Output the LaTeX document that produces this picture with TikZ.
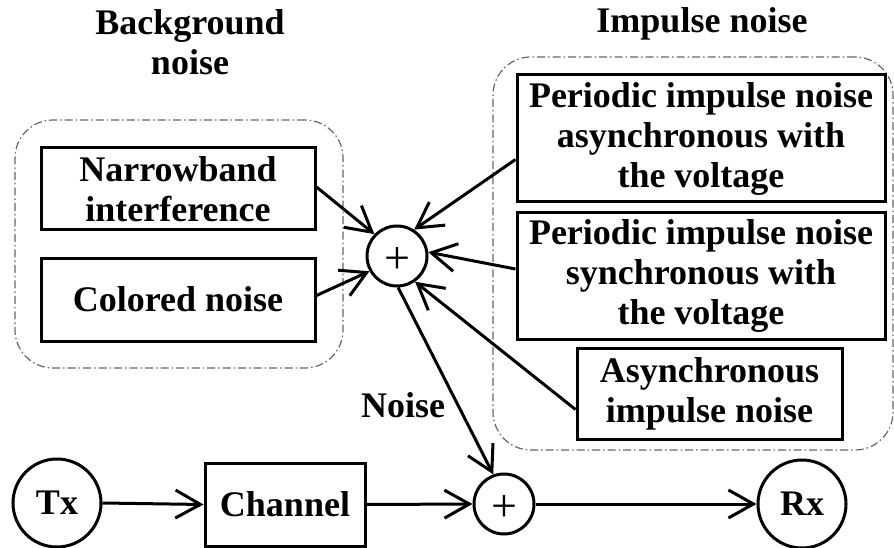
\documentclass[tikz,border=0pt]{standalone}
\usepackage{fontspec}
\setmainfont{Liberation Serif}
\usetikzlibrary{arrows.meta}
\begin{document}
\begin{tikzpicture}[x=1pt,y=-1pt,
  lw/.style={line width=3pt},
  txt/.style={font=\fontsize{36}{40}\selectfont\bfseries, align=center},
  blk/.style={draw, lw, rectangle, inner sep=0pt, txt},
  term/.style={draw, lw, circle, inner sep=0pt, minimum size=88pt, txt},
  sum/.style={draw, lw, circle, inner sep=0pt, minimum size=60pt, font=\fontsize{46}{46}\selectfont},
  arr/.style={lw, -{Straight Barb[length=25pt,width=28pt]}},
  grp/.style={draw=black!60, line width=1.2pt, dash pattern=on 8pt off 3pt on 1.5pt off 3pt, rounded corners=38pt, inner sep=0pt}]
\useasboundingbox (0,0) rectangle (894,548);
% groups
\node[grp, minimum width=328pt, minimum height=248pt] (bg) at (179,244) {};
\node[grp, minimum width=400pt, minimum height=393pt] (imp) at (693,253.5) {};
% titles
\node[txt] (bgt) at (190,42) {Background\\noise};
\node[txt, anchor=base] (impt) at (702,33) {Impulse noise};
% blocks
\node[blk, minimum width=274pt, minimum height=82pt] (nb) at (178,189) {Narrowband\\interference};
\node[blk, minimum width=274pt, minimum height=83pt] (cn) at (178,299.5) {Colored noise};
\node[blk, minimum width=368pt, minimum height=127pt] (pa) at (701,138.5) {Periodic impulse noise\\asynchronous with\\the voltage};
\node[blk, minimum width=368pt, minimum height=126pt] (ps) at (701,276) {Periodic impulse noise\\synchronous with\\the voltage};
\node[blk, minimum width=265pt, minimum height=91pt] (ai) at (709.5,393.5) {Asynchronous\\impulse noise};
\node[sum] (s1) at (397,256) {\smash{\raisebox{-0.38em}{+}}};
\node[sum] (s2) at (504,504) {\smash{\raisebox{-0.38em}{+}}};
\node[term] (tx) at (57,503) {Tx};
\node[term] (rx) at (802,504) {Rx};
\node[blk, minimum width=160pt, minimum height=83pt] (ch) at (285,504.5) {Channel};
\node[txt, anchor=base] (nl) at (403,417) {Noise};
% connectors
\draw[arr] ([yshift=2pt]nb.east) -- (s1.136);
\draw[arr] ([yshift=4pt]cn.east) -- (s1.209);
\draw[arr] ([yshift=-21pt]pa.west) -- (s1.57);
\draw[arr] ([yshift=7pt]ps.west) -- (s1.7);
\draw[arr] ([yshift=-16pt]ai.west) -- (s1.305);
\draw[arr] (s1.272) -- (s2.110);
\draw[arr] (tx.east) -- (ch.west);
\draw[arr] (ch.east) -- (s2.west);
\draw[arr] (s2.east) -- (rx.west);
\end{tikzpicture}
\end{document}
